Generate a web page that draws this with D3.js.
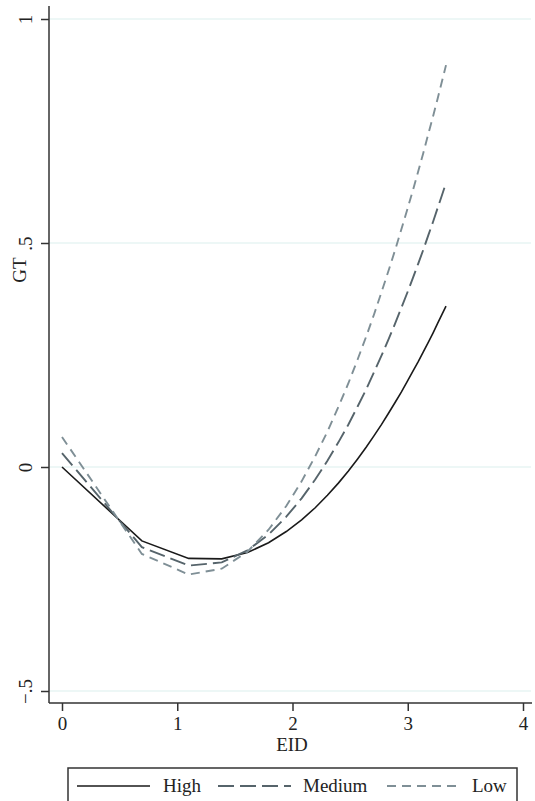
<!DOCTYPE html>
<html>
<head>
<meta charset="utf-8">
<script src="https://cdn.jsdelivr.net/npm/d3@7"></script>
<style>
  body { margin: 0; background: #fff; }
  svg { display: block; font-family: "Liberation Serif", "Times New Roman", serif; }
</style>
</head>
<body>
<div id="chart"></div>
<script>
// EID points (ln of 1..28)
var eid = [0, 0.693, 1.099, 1.386, 1.609, 1.792, 1.946, 2.079, 2.197, 2.303, 2.398, 2.485, 2.565, 2.639,
           2.708, 2.773, 2.833, 2.890, 2.944, 2.996, 3.045, 3.091, 3.135, 3.178, 3.219, 3.258, 3.296, 3.332];

var high = [0, -0.165, -0.204, -0.205, -0.191, -0.169, -0.144, -0.118, -0.091, -0.063, -0.036, -0.009, 0.018, 0.044,
            0.070, 0.095, 0.120, 0.144, 0.167, 0.191, 0.214, 0.235, 0.257, 0.278, 0.299, 0.320, 0.340, 0.359];

var medium = [0.031, -0.179, -0.220, -0.213, -0.186, -0.151, -0.111, -0.070, -0.028, 0.014, 0.055, 0.095, 0.135, 0.173,
              0.212, 0.249, 0.285, 0.320, 0.355, 0.389, 0.422, 0.454, 0.485, 0.517, 0.547, 0.577, 0.606, 0.634];

var low = [0.067, -0.194, -0.240, -0.227, -0.189, -0.140, -0.087, -0.032, 0.024, 0.079, 0.134, 0.187, 0.240, 0.291,
           0.341, 0.391, 0.438, 0.484, 0.530, 0.575, 0.618, 0.660, 0.701, 0.743, 0.782, 0.821, 0.860, 0.897];

var seriesNames = ["High", "Medium", "Low"];
var yTicks = [-0.5, 0, 0.5, 1];
var yTickLabels = ["\u2212.5", "0", ".5", "1"];
var xTicks = [0, 1, 2, 3, 4];

var width = 535, height = 801;

var svg = d3.select("#chart").append("svg")
    .attr("width", width)
    .attr("height", height);

var x = d3.scaleLinear().domain([0, 4]).range([62, 523]);
var y = d3.scaleLinear().domain([-0.5, 1]).range([691, 19]);

var axisX0 = 49, axisY0 = 703;

// gridlines
svg.append("g").selectAll("line")
    .data(yTicks)
    .enter().append("line")
    .attr("x1", axisX0).attr("x2", 531)
    .attr("y1", function(d) { return y(d); })
    .attr("y2", function(d) { return y(d); })
    .attr("stroke", "#dcefed")
    .attr("stroke-width", 1.2);

// axes
var yAxis = d3.axisLeft(y).tickValues(yTicks).tickSize(8).tickSizeOuter(0)
    .tickFormat(function(d, i) { return yTickLabels[i]; });
var gy = svg.append("g")
    .attr("transform", "translate(" + axisX0 + ",0)")
    .call(yAxis);
gy.select(".domain").remove();
gy.selectAll(".tick line").attr("stroke", "#333").attr("stroke-width", 1.5);
gy.selectAll(".tick text")
    .attr("transform", "rotate(-90)")
    .attr("x", 0).attr("y", -17).attr("dy", 0)
    .attr("text-anchor", "middle")
    .attr("fill", "#222")
    .style("font-family", "Liberation Serif")
    .style("font-size", "19px");

var xAxis = d3.axisBottom(x).tickValues(xTicks).tickSize(8).tickSizeOuter(0)
    .tickFormat(d3.format("d"));
var gx = svg.append("g")
    .attr("transform", "translate(0," + axisY0 + ")")
    .call(xAxis);
gx.select(".domain").remove();
gx.selectAll(".tick line").attr("stroke", "#333").attr("stroke-width", 1.5);
gx.selectAll(".tick text")
    .attr("y", 27).attr("dy", 0)
    .attr("fill", "#222")
    .style("font-family", "Liberation Serif")
    .style("font-size", "19px");

svg.append("line")
    .attr("x1", axisX0).attr("x2", axisX0)
    .attr("y1", 6).attr("y2", axisY0)
    .attr("stroke", "#333").attr("stroke-width", 1.5);
svg.append("line")
    .attr("x1", axisX0).attr("x2", 532)
    .attr("y1", axisY0).attr("y2", axisY0)
    .attr("stroke", "#333").attr("stroke-width", 1.5);

// axis titles
svg.append("text")
    .attr("transform", "translate(26,270) rotate(-90)")
    .attr("text-anchor", "middle")
    .attr("fill", "#222")
    .style("font-size", "19px")
    .text("GT");
svg.append("text")
    .attr("x", 292).attr("y", 751)
    .attr("text-anchor", "middle")
    .attr("fill", "#222")
    .style("font-size", "19px")
    .text("EID");

// lines
var styles = [
    { color: "#1a1a1a", dash: null, w: 1.6 },
    { color: "#56646b", dash: "16,6", w: 1.9 },
    { color: "#7f8f96", dash: "9,6", w: 1.9 }
];
var allSeries = [high, medium, low];

var line = d3.line()
    .x(function(d) { return x(d[0]); })
    .y(function(d) { return y(d[1]); });

allSeries.forEach(function(s, k) {
    var pts = eid.map(function(e, i) { return [e, s[i]]; });
    svg.append("path")
        .datum(pts)
        .attr("d", line)
        .attr("fill", "none")
        .attr("stroke", styles[k].color)
        .attr("stroke-width", styles[k].w)
        .attr("stroke-dasharray", styles[k].dash);
});

// legend
svg.append("rect")
    .attr("x", 68).attr("y", 768)
    .attr("width", 449).attr("height", 50)
    .attr("fill", "#fff")
    .attr("stroke", "#333").attr("stroke-width", 1.5);

var legX = [77, 218, 387];
var legText = [163, 303, 472];
seriesNames.forEach(function(name, k) {
    svg.append("line")
        .attr("x1", legX[k]).attr("x2", legX[k] + 73)
        .attr("y1", 786).attr("y2", 786)
        .attr("stroke", styles[k].color)
        .attr("stroke-width", styles[k].w)
        .attr("stroke-dasharray", styles[k].dash);
    svg.append("text")
        .attr("x", legText[k]).attr("y", 792)
        .attr("fill", "#222")
        .style("font-size", "19px")
        .text(name);
});
</script>
</body>
</html>
